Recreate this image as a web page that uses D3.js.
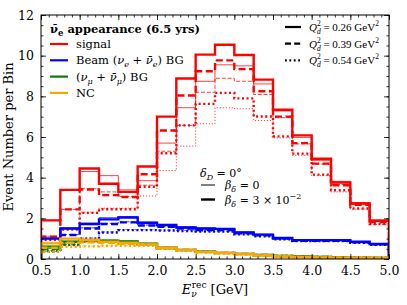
<!DOCTYPE html>
<html><head><meta charset="utf-8">
<script src="https://cdn.jsdelivr.net/npm/d3@7"></script>
<style>body{margin:0;background:#fff}text{font-family:"DejaVu Serif","Liberation Serif",serif}</style>
</head><body><svg id="c" width="407" height="305"></svg>
<script>
// ---------- data ----------
const binEdges = [0.5,0.75,1.0,1.25,1.5,1.75,2.0,2.25,2.5,2.75,3.0,3.25,3.5,3.75,4.0,4.25,4.5,4.75,5.0];
const xTickVals = [0.5,1.0,1.5,2.0,2.5,3.0,3.5,4.0,4.5,5.0];
const yTickVals = [0,2,4,6,8,10,12];
const qValues = ["0.26","0.39","0.54"];
const legendNames = ["signal","beam","numu","nc"];

// signal (red): Q index 1..3, b0 = beta 0 (thin), b3 = beta 3e-2 (thick)
const sig_Q1_b3 = [1.9,3.4,4.45,3.7,3.3,4.55,7.0,8.88,10.05,10.54,10.03,8.82,7.34,6.08,4.93,3.76,2.73,1.88];
const sig_Q1_b0 = [1.9,3.4,4.3,4.1,3.4,3.85,5.7,7.44,8.74,9.55,9.5,8.61,7.28,5.98,4.85,3.82,2.78,1.92];
const sig_Q2_b3 = [1.1,2.44,3.42,3.14,3.05,4.17,6.32,8.04,9.23,9.77,9.34,8.25,7.0,5.7,4.69,3.63,2.66,1.82];
const sig_Q2_b0 = [1.12,2.44,3.46,3.3,3.08,3.63,5.3,6.57,8.2,8.89,8.74,8.09,6.95,5.66,4.66,3.66,2.7,1.84];
const sig_Q3_b3 = [0.95,1.45,2.27,2.45,2.45,3.55,5.2,6.57,7.63,8.17,7.9,7.01,6.03,5.18,4.15,3.38,2.48,1.72];
const sig_Q3_b0 = [0.95,1.45,2.3,2.5,2.5,3.1,4.35,5.55,6.65,7.44,7.39,6.81,5.96,5.1,4.1,3.3,2.45,1.7];

// beam nu_e + nubar_e background (blue)
const beam_Q1_b3 = [1.0,1.5,1.72,1.95,2.04,1.78,1.67,1.55,1.5,1.48,1.31,1.2,1.03,0.93,0.93,0.93,0.85,0.74];
const beam_Q1_b0 = [1.03,1.53,1.76,2.03,2.08,1.81,1.7,1.58,1.52,1.5,1.33,1.22,1.05,0.95,0.95,0.94,0.86,0.75];
const beam_Q2_b3 = [0.55,1.18,1.5,1.72,1.8,1.65,1.58,1.5,1.42,1.42,1.27,1.16,1.0,0.9,0.9,0.9,0.82,0.72];
const beam_Q2_b0 = [0.57,1.2,1.53,1.75,1.83,1.67,1.6,1.52,1.44,1.44,1.29,1.18,1.02,0.91,0.91,0.91,0.83,0.73];
const beam_Q3_b3 = [0.35,0.7,1.0,1.3,1.42,1.42,1.4,1.38,1.35,1.35,1.22,1.12,0.97,0.88,0.88,0.88,0.8,0.7];
const beam_Q3_b0 = [0.37,0.72,1.03,1.33,1.45,1.44,1.42,1.4,1.37,1.37,1.24,1.14,0.98,0.89,0.89,0.89,0.81,0.71];

// nu_mu + nubar_mu background (green)
const numu_Q1_b3 = [0.6,0.85,0.92,0.9,0.86,0.75,0.55,0.45,0.36,0.3,0.25,0.2,0.15,0.12,0.1,0.08,0.07,0.05];
const numu_Q1_b0 = [0.62,0.87,0.95,0.93,0.88,0.77,0.56,0.46,0.37,0.31,0.26,0.2,0.15,0.12,0.1,0.08,0.07,0.05];
const numu_Q2_b3 = [0.5,0.8,0.88,0.86,0.83,0.73,0.54,0.44,0.35,0.3,0.25,0.2,0.15,0.12,0.1,0.08,0.07,0.05];
const numu_Q2_b0 = [0.52,0.82,0.9,0.88,0.85,0.74,0.55,0.45,0.36,0.3,0.25,0.2,0.15,0.12,0.1,0.08,0.07,0.05];
const numu_Q3_b3 = [0.4,0.7,0.85,0.84,0.82,0.72,0.53,0.43,0.35,0.29,0.24,0.19,0.15,0.12,0.1,0.08,0.07,0.05];
const numu_Q3_b0 = [0.42,0.72,0.87,0.85,0.83,0.73,0.54,0.44,0.35,0.3,0.25,0.2,0.15,0.12,0.1,0.08,0.07,0.05];

// NC background (orange)
const nc_Q1_b3 = [0.77,1.0,0.95,0.85,0.8,0.72,0.55,0.45,0.35,0.3,0.25,0.18,0.13,0.1,0.08,0.07,0.06,0.05];
const nc_Q1_b0 = [0.78,1.01,0.96,0.86,0.81,0.73,0.56,0.46,0.36,0.3,0.25,0.18,0.13,0.1,0.08,0.07,0.06,0.05];
const nc_Q2_b3 = [0.55,0.8,0.82,0.8,0.75,0.7,0.53,0.43,0.33,0.28,0.23,0.17,0.12,0.1,0.08,0.07,0.06,0.05];
const nc_Q2_b0 = [0.56,0.81,0.83,0.81,0.76,0.7,0.53,0.43,0.33,0.28,0.23,0.17,0.12,0.1,0.08,0.07,0.06,0.05];
const nc_Q3_b3 = [0.35,0.6,0.62,0.65,0.65,0.65,0.5,0.42,0.32,0.27,0.22,0.16,0.12,0.09,0.08,0.07,0.06,0.05];
const nc_Q3_b0 = [0.36,0.61,0.63,0.66,0.66,0.66,0.5,0.42,0.32,0.27,0.22,0.16,0.12,0.09,0.08,0.07,0.06,0.05];

// ---------- styles ----------
const colors = {signal:"#ff0000", beam:"#0000ff", numu:"#008000", nc:"#ffa500"};
const dashThick = {solid:null, dashed:"7,3.5", dotted:"2,2.6"};
const dashThin  = {solid:null, dashed:"4,1.8", dotted:"1.2,1.8"};
const series = [
  ["signal",sig_Q1_b0,"solid",0],["signal",sig_Q2_b0,"dashed",0],["signal",sig_Q3_b0,"dotted",0],
  ["signal",sig_Q1_b3,"solid",1],["signal",sig_Q2_b3,"dashed",1],["signal",sig_Q3_b3,"dotted",1],
  ["beam",beam_Q1_b0,"solid",0],["beam",beam_Q2_b0,"dashed",0],["beam",beam_Q3_b0,"dotted",0],
  ["beam",beam_Q1_b3,"solid",1],["beam",beam_Q2_b3,"dashed",1],["beam",beam_Q3_b3,"dotted",1],
  ["numu",numu_Q1_b0,"solid",0],["numu",numu_Q2_b0,"dashed",0],["numu",numu_Q3_b0,"dotted",0],
  ["numu",numu_Q1_b3,"solid",1],["numu",numu_Q2_b3,"dashed",1],["numu",numu_Q3_b3,"dotted",1],
  ["nc",nc_Q1_b0,"solid",0],["nc",nc_Q2_b0,"dashed",0],["nc",nc_Q3_b0,"dotted",0],
  ["nc",nc_Q1_b3,"solid",1],["nc",nc_Q2_b3,"dashed",1],["nc",nc_Q3_b3,"dotted",1]
];

// ---------- layout ----------
const W=407,H=305, L=41, R=389, T=15, B=259;
const svg = d3.select("#c");
const x = d3.scaleLinear().domain([0.5,5.0]).range([L,R]);
const y = d3.scaleLinear().domain([0,12]).range([B,T]);

svg.append("defs").append("clipPath").attr("id","clip")
  .append("rect").attr("x",L).attr("y",T).attr("width",R-L).attr("height",B-T);

const line = d3.line().x(d=>x(d[0])).y(d=>y(d[1])).curve(d3.curveStepAfter);
const g = svg.append("g").attr("clip-path","url(#clip)");
series.forEach(([name,vals,style,thick])=>{
  const pts=[[binEdges[0],0]];
  vals.forEach((v,i)=>pts.push([binEdges[i],v]));
  pts.push([binEdges[binEdges.length-1],vals[vals.length-1]]);
  pts.push([binEdges[binEdges.length-1],0]);
  g.append("path").attr("d",line(pts)).attr("fill","none")
    .attr("stroke",colors[name])
    .attr("stroke-width",thick?2.4:1.0)
    .attr("stroke-opacity",thick?1:0.75)
    .attr("stroke-dasharray",(thick?dashThick:dashThin)[style]);
});

// ---------- axes ----------
const fs = 12.5;
const xMinor = d3.range(0.5,5.0001,0.1);
const yMinor = d3.range(0,12.0001,0.5);
function axisSet(axisFn, scale, major, minor, transform, showLabels, fmt){
  const gm = svg.append("g").attr("transform",transform)
    .call(axisFn(scale).tickValues(minor).tickSize(-2.5).tickFormat(""));
  gm.select(".domain").remove();
  const ga = svg.append("g").attr("transform",transform)
    .call(axisFn(scale).tickValues(major).tickSize(-5).tickPadding(7).tickFormat(showLabels?fmt:""));
  ga.select(".domain").remove();
  ga.selectAll("text").attr("font-size",fs).attr("fill","#000").style("font-family","DejaVu Serif");
  [gm,ga].forEach(a=>a.selectAll("line").attr("stroke","#000").attr("stroke-width",0.8));
}
axisSet(d3.axisBottom,x,xTickVals,xMinor,`translate(0,${B})`,true,d3.format(".1f"));
axisSet(d3.axisTop,x,xTickVals,xMinor,`translate(0,${T})`,false,null);
axisSet(d3.axisLeft,y,yTickVals,yMinor,`translate(${L},0)`,true,d3.format("d"));
axisSet(d3.axisRight,y,yTickVals,yMinor,`translate(${R},0)`,false,null);
svg.append("rect").attr("x",L).attr("y",T).attr("width",R-L).attr("height",B-T)
  .attr("fill","none").attr("stroke","#000").attr("stroke-width",1);

// ---------- text helpers ----------
function rich(parent, px, py, segs, size, anchor, family){
  const t = parent.append("text").attr("x",px).attr("y",py).attr("font-size",size)
    .attr("text-anchor",anchor||"start").attr("fill","#000");
  if(family) t.style("font-family",family);
  segs.forEach(s=>{
    const sp=t.append("tspan").text(s.t);
    if(s.i) sp.attr("font-style","italic");
    if(s.b) sp.attr("font-weight","bold");
    if(s.dy) sp.attr("dy",s.dy);
    if(s.dx) sp.attr("dx",s.dx);
    if(s.s) sp.attr("font-size",s.s);
  });
  return t;
}

// axis labels
rich(svg, (L+R)/2, 294, [{t:"E",i:1},{t:"ν",i:1,s:9,dy:3},{t:"rec",s:9,dy:-9,dx:-5},{t:" [GeV]",dy:6}], 13, "middle");
svg.append("text").attr("transform",`translate(13,${(T+B)/2}) rotate(-90)`)
  .attr("text-anchor","middle").attr("font-size",13).text("Event Number per Bin");

// left legend
rich(svg, 50, 33, [{t:"ν̄",b:1},{t:"e",b:1,s:8.5,dy:3},{t:" appearance (6.5 yrs)",b:1,dy:-3}], 11.5);
const leftRows = [
  [[{t:"signal"}]],
  [[{t:"Beam ("},{t:"ν",i:1},{t:"e",i:1,s:8,dy:3},{t:" + ",dy:-3},{t:"ν̄",i:1},{t:"e",i:1,s:8,dy:3},{t:") BG",dy:-3}]],
  [[{t:"("},{t:"ν",i:1},{t:"μ",i:1,s:8,dy:3},{t:" + ",dy:-3},{t:"ν̄",i:1},{t:"μ",i:1,s:8,dy:3},{t:") BG",dy:-3}]],
  [[{t:"NC"}]]
];
leftRows.forEach((r,i)=>{
  const yy = 44 + i*16.3;
  svg.append("line").attr("x1",50).attr("x2",68).attr("y1",yy).attr("y2",yy)
    .attr("stroke",colors[legendNames[i]]).attr("stroke-width",2.2);
  rich(svg, 76, yy+4, r[0], 11.5);
});

// right legend (Q_d^2)
["solid","dashed","dotted"].forEach((st,i)=>{
  const yy = 27 + i*16.7;
  svg.append("line").attr("x1",285).attr("x2",301).attr("y1",yy).attr("y2",yy)
    .attr("stroke","#000").attr("stroke-width",2.2).attr("stroke-dasharray",st==="solid"?null:(st==="dashed"?"6,3.2":"1.8,2.6"));
  rich(svg, 309, yy+4, [{t:"Q",i:1},{t:"2",s:7.5,dy:-5},{t:"d",i:1,s:7.5,dy:8,dx:-3.8},{t:" = "+qValues[i]+" GeV",dy:-3},{t:"2",s:7.5,dy:-5}], 11, "start", "Liberation Serif");
});

// middle annotation
rich(svg, 200, 177, [{t:"δ",i:1},{t:"D",i:1,s:8,dy:3},{t:" = 0°",dy:-3}], 11);
svg.append("line").attr("x1",201).attr("x2",215).attr("y1",185).attr("y2",185).attr("stroke","#000").attr("stroke-width",1);
rich(svg, 225, 189, [{t:"β",i:1},{t:"δ",i:1,s:8,dy:3},{t:" = 0",dy:-3}], 11);
svg.append("line").attr("x1",201).attr("x2",215).attr("y1",199.5).attr("y2",199.5).attr("stroke","#000").attr("stroke-width",2.4);
rich(svg, 225, 203.5, [{t:"β",i:1},{t:"δ",i:1,s:8,dy:3},{t:" = 3 × 10",dy:-3},{t:"−2",s:8,dy:-5}], 11);
</script></body></html>
